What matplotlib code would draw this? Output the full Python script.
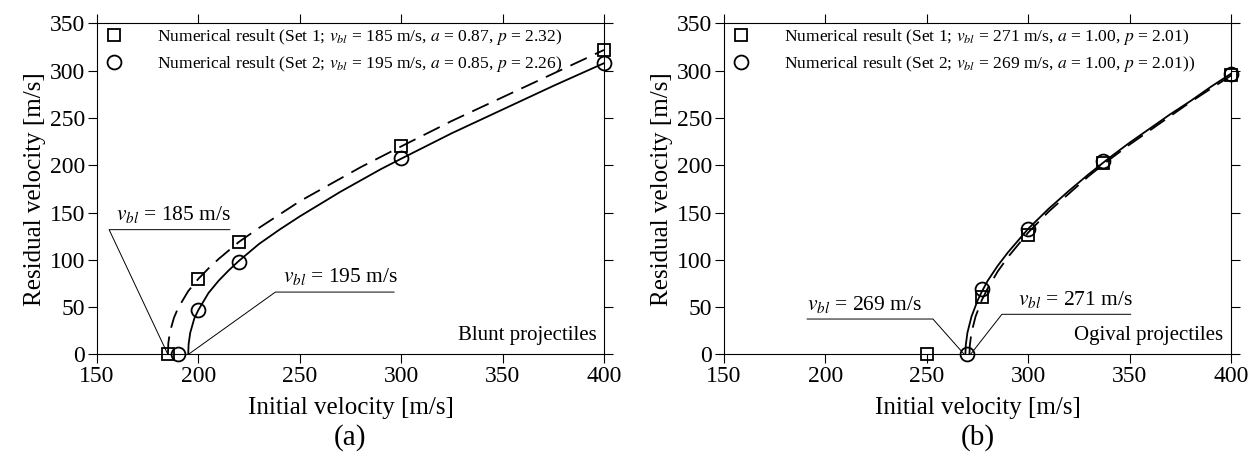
import matplotlib
matplotlib.use("Agg")
import matplotlib.pyplot as plt

# --- Data ---

# (a) blunt projectiles: numerical results
vi_a1 = [185, 200, 220, 300, 400]
vr_a1 = [0, 80, 119, 220, 322]
vi_a2 = [190, 200, 220, 300, 400]
vr_a2 = [0, 47, 98, 208, 308]

# (a) fitted curves (set 1 dashed, set 2 solid)
fit_vi_a1 = [185, 185.2, 186, 188, 190, 195, 200, 205, 210, 215, 220, 230, 240, 250,
             260, 270, 280, 290, 300, 325, 350, 375, 400]
fit_vr_a1 = [0, 12, 24, 39, 49, 67, 80, 91, 101, 110, 119, 134, 148, 162,
             174, 186, 198, 209, 220, 247, 272, 297, 322]
fit_vi_a2 = [195, 195.2, 196, 198, 200, 205, 210, 215, 220, 230, 240, 250,
             260, 270, 280, 290, 300, 325, 350, 375, 400]
fit_vr_a2 = [0, 11, 23, 38, 47, 65, 78, 89, 99, 117, 132, 146,
             159, 172, 184, 196, 207, 234, 259, 284, 308]

# (b) ogival projectiles: numerical results
vi_b1 = [250, 277, 300, 337, 400]
vr_b1 = [0, 61, 126, 202, 296]
vi_b2 = [270, 277, 300, 337, 400]
vr_b2 = [0, 69, 133, 205, 297]

# (b) fitted curves
fit_vi_b1 = [271, 271.2, 272, 274, 277, 280, 285, 290, 300, 310, 320, 330, 340,
             350, 360, 370, 380, 390, 400]
fit_vr_b1 = [0, 10, 23, 40, 57, 70, 88, 103, 129, 151, 170, 189, 206,
             222, 237, 252, 267, 281, 295]
fit_vi_b2 = [269, 269.2, 270, 272, 275, 277, 280, 285, 290, 300, 310, 320, 330,
             340, 350, 360, 370, 380, 390, 400]
fit_vr_b2 = [0, 10, 23, 40, 57, 66, 78, 94, 108, 133, 154, 173, 191,
             208, 224, 239, 254, 268, 283, 297]

labels_a = [r"Numerical result (Set 1; $v_{bl}$ = 185 m/s, $a$ = 0.87, $p$ = 2.32)",
            r"Numerical result (Set 2; $v_{bl}$ = 195 m/s, $a$ = 0.85, $p$ = 2.26)"]
labels_b = [r"Numerical result (Set 1; $v_{bl}$ = 271 m/s, $a$ = 1.00, $p$ = 2.01)",
            r"Numerical result (Set 2; $v_{bl}$ = 269 m/s, $a$ = 1.00, $p$ = 2.01))"]

vbl_a = [185, 195]
vbl_b = [271, 269]

# --- Style ---
plt.rcParams["font.family"] = ["Liberation Serif", "DejaVu Serif"]
plt.rcParams["mathtext.fontset"] = "stix"
plt.rcParams["axes.linewidth"] = 0.8

fig = plt.figure(figsize=(12.59, 4.58), dpi=100)
ax_a = fig.add_axes([0.0770, 0.2260, 0.4027, 0.7227])
ax_b = fig.add_axes([0.5751, 0.2260, 0.4027, 0.7227])


def draw_panel(ax, vi1, vr1, vi2, vr2, fx1, fy1, fx2, fy2, labels, tag, note):
    ax.plot(fx1, fy1, color="black", lw=1.3, dashes=[10, 5])
    ax.plot(fx2, fy2, color="black", lw=1.3)
    ax.plot(vi1, vr1, ls="none", marker="s", ms=9, mew=1.3, mfc="none",
            mec="black", clip_on=False, label=labels[0], zorder=5)
    ax.plot(vi2, vr2, ls="none", marker="o", ms=10, mew=1.3, mfc="none",
            mec="black", clip_on=False, label=labels[1], zorder=5)

    ax.set_xlim(150, 400)
    ax.set_ylim(0, 350)
    ax.set_xticks(range(150, 401, 50))
    ax.set_yticks(range(0, 351, 50))
    ax.tick_params(direction="out", length=6.5, width=0.8, labelsize=17,
                   top=True, right=True, pad=2)
    ax.set_xlabel("Initial velocity [m/s]", fontsize=18, labelpad=7)
    ax.set_ylabel("Residual velocity [m/s]", fontsize=18, labelpad=3)
    ax.text(0.5, -0.25, tag, transform=ax.transAxes, ha="center", va="center",
            fontsize=21)
    ax.text(0.985, 0.03, note, transform=ax.transAxes, ha="right", va="bottom",
            fontsize=15)

    leg = ax.legend(loc="upper left", bbox_to_anchor=(0.0, 1.012), frameon=False,
                    fontsize=12.6, handlelength=1.0, handletextpad=2.0,
                    labelspacing=0.38, borderaxespad=0.05)
    return leg


draw_panel(ax_a, vi_a1, vr_a1, vi_a2, vr_a2, fit_vi_a1, fit_vr_a1,
           fit_vi_a2, fit_vr_a2, labels_a, "(a)", "Blunt projectiles")
draw_panel(ax_b, vi_b1, vr_b1, vi_b2, vr_b2, fit_vi_b1, fit_vr_b1,
           fit_vi_b2, fit_vr_b2, labels_b, "(b)", "Ogival projectiles")

# --- Leader annotations for the ballistic limits ---
lw_lead = 0.7
ax_a.plot([215.5, 156, vbl_a[0]], [132, 132, 0], color="black", lw=lw_lead)
ax_a.text(159.5, 137, r"$v_{bl}$ = 185 m/s", fontsize=15.5, ha="left", va="bottom")
ax_a.plot([296.5, 238, vbl_a[1]], [66, 66, 0], color="black", lw=lw_lead)
ax_a.text(241.5, 71, r"$v_{bl}$ = 195 m/s", fontsize=15.5, ha="left", va="bottom")

ax_b.plot([191, 253, vbl_b[1] - 0.5], [37.5, 37.5, 0], color="black", lw=lw_lead)
ax_b.text(191, 42, r"$v_{bl}$ = 269 m/s", fontsize=15.5, ha="left", va="bottom")
ax_b.plot([350.5, 287, vbl_b[0] + 0.5], [42.5, 42.5, 0], color="black", lw=lw_lead)
ax_b.text(295, 47, r"$v_{bl}$ = 271 m/s", fontsize=15.5, ha="left", va="bottom")

fig.savefig("out.png", dpi=100)
